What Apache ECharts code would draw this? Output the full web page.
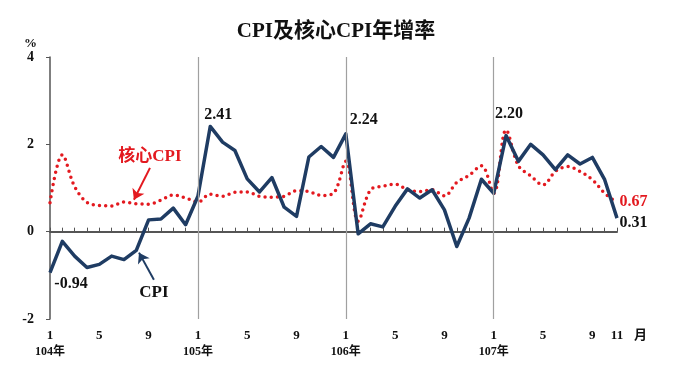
<!DOCTYPE html>
<html>
<head>
<meta charset="utf-8">
<script src="https://cdn.jsdelivr.net/npm/echarts@6/dist/echarts.min.js"></script>
<style>html,body{margin:0;padding:0;background:#fff}#c{width:680px;height:383px}</style>
</head>
<body>
<div id="c"></div>
<script>
// ---- data ----
const years = ['104年', '105年', '106年', '107年'];
const shownMonths = [1, 5, 9];
const lastMonthLabel = '11';
const cpi = [-0.94, -0.22, -0.56, -0.82, -0.75, -0.56, -0.64, -0.43, 0.27, 0.29, 0.54, 0.16,
  0.81, 2.41, 2.05, 1.86, 1.21, 0.91, 1.24, 0.56, 0.35, 1.71, 1.95, 1.70,
  2.24, -0.05, 0.18, 0.11, 0.58, 0.98, 0.77, 0.96, 0.50, -0.34, 0.31, 1.20,
  0.88, 2.20, 1.61, 2.00, 1.76, 1.42, 1.76, 1.55, 1.70, 1.19, 0.31];
const core = [0.66, 1.76, 1.03, 0.67, 0.60, 0.59, 0.68, 0.64, 0.63, 0.72, 0.84, 0.77,
  0.68, 0.86, 0.81, 0.90, 0.91, 0.81, 0.79, 0.81, 0.94, 0.92, 0.83, 0.88,
  1.61, 0.24, 0.96, 1.04, 1.09, 0.96, 0.92, 0.96, 0.82, 1.13, 1.29, 1.51,
  0.88, 2.33, 1.51, 1.28, 1.07, 1.38, 1.49, 1.38, 1.19, 0.88, 0.67];
const yTicks = [-2, 0, 2, 4];
// labelled points (index in series)
const cpiLabelled = [0, 13, 24, 37, 46];
const coreLabelled = [46];

const SERIF = "'Liberation Serif','Noto Sans CJK TC',serif";
const NAVY = '#1f3c63';
const RED = '#e3191f';
const N = cpi.length - 1;

const cpiLabelCfg = {
  0: {position: 'bottom', distance: 3, offset: [21, 0]},
  13: {position: 'top', distance: 3, offset: [8, 0]},
  24: {position: 'top', distance: 5, offset: [18, 0]},
  37: {position: 'top', distance: 13, offset: [3, 0]},
  46: {position: 'right', distance: 2, offset: [0, 5]}
};
const hidden = {color: 'rgba(0,0,0,0)'};
const cpiData = cpi.map((v, i) => {
  const d = {value: [i, v]};
  if (cpiLabelled.includes(i)) {
    d.label = Object.assign({show: true, formatter: v.toFixed(2), color: '#111',
      fontFamily: SERIF, fontWeight: 'bold', fontSize: 16}, cpiLabelCfg[i]);
  }
  return d;
});
const coreData = core.map((v, i) => {
  const d = {value: [i, v]};
  if (coreLabelled.includes(i)) {
    d.label = {show: true, formatter: v.toFixed(2), color: RED, position: 'right',
      distance: 2, offset: [0, -1], fontFamily: SERIF, fontWeight: 'bold', fontSize: 16};
  }
  return d;
});

function monthLabel(val) {
  const i = Math.round(val);
  if (i !== val || i < 0 || i > N) return '';
  const m = i % 12 + 1;
  if (i === N) return '{m|' + lastMonthLabel + '}';
  if (m === 1) return '{m|1}\n{y|' + years[Math.floor(i / 12)] + '}';
  if (shownMonths.includes(m)) return '{m|' + m + '}';
  return '';
}

const chart = echarts.init(document.getElementById('c'), null, {renderer: 'canvas'});
chart.setOption({
  animation: false,
  backgroundColor: '#fff',
  title: {
    text: 'CPI及核心CPI年增率', left: 331, top: 16, textAlign: 'center',
    textStyle: {fontFamily: SERIF, fontWeight: 'bold', fontSize: 21, color: '#111'}
  },
  grid: {left: 50, right: 63, top: 57, bottom: 64, containLabel: false},
  xAxis: [{
    type: 'value', min: 0, max: N, interval: 1,
    axisLine: {show: true, onZero: true, lineStyle: {color: '#555', width: 2}},
    axisTick: {show: true, inside: true, length: 4, lineStyle: {color: '#555', width: 1}},
    axisLabel: {show: false}, splitLine: {show: false}
  }, {
    type: 'value', min: 0, max: N, interval: 1, position: 'bottom',
    axisLine: {show: false, onZero: false}, axisTick: {show: false}, splitLine: {show: false},
    name: '月', nameLocation: 'end', nameGap: 17,
    nameTextStyle: {fontFamily: SERIF, fontWeight: 'bold', fontSize: 13, color: '#111',
      verticalAlign: 'top', padding: [10, 0, 0, 0]},
    axisLabel: {
      show: true, margin: 9, showMinLabel: true, showMaxLabel: true, hideOverlap: false,
      formatter: monthLabel,
      rich: {
        m: {fontFamily: SERIF, fontWeight: 'bold', fontSize: 13, color: '#111', lineHeight: 16},
        y: {fontFamily: SERIF, fontWeight: 'bold', fontSize: 12, color: '#111', lineHeight: 16}
      }
    }
  }],
  yAxis: {
    type: 'value', min: -2, max: 4, interval: 2,
    name: '%', nameLocation: 'end', nameGap: 6,
    nameTextStyle: {fontFamily: SERIF, fontWeight: 'bold', fontSize: 13, color: '#111', align: 'right', padding: [0, 13, 0, 0]},
    axisLine: {show: true, lineStyle: {color: '#555', width: 1.5}},
    axisTick: {show: true, length: 4, lineStyle: {color: '#555'}},
    axisLabel: {margin: 16, fontFamily: SERIF, fontWeight: 'bold', fontSize: 14, color: '#111',
      formatter: v => yTicks.includes(v) ? String(v) : ''},
    splitLine: {show: false}
  },
  series: [{
    type: 'line', data: [], xAxisIndex: 0, silent: true,
    markLine: {
      silent: true, symbol: ['none', 'none'], label: {show: false},
      lineStyle: {color: '#a0a0a0', type: 'solid', width: 1.2},
      data: [{xAxis: 12}, {xAxis: 24}, {xAxis: 36}]
    }
  }, {
    name: '核心CPI', type: 'line', xAxisIndex: 0, data: coreData, smooth: 0.35,
    showSymbol: true, symbol: 'circle', symbolSize: 1, showAllSymbol: true,
    lineStyle: {color: RED, width: 3.5, type: [0, 6.2], cap: 'round'},
    itemStyle: hidden,
    markLine: {
      silent: true, symbol: ['none', 'arrow'], symbolSize: 10, label: {show: false},
      lineStyle: {color: RED, type: 'solid', width: 2},
      itemStyle: {color: RED},
      data: [[{coord: [8.11, 1.46]}, {coord: [6.81, 0.73]}]]
    },
    markPoint: {
      silent: true, symbol: 'rect', symbolSize: 1, itemStyle: hidden,
      label: {show: true, position: 'inside', formatter: '核心CPI', color: RED,
        fontFamily: SERIF, fontWeight: 'bold', fontSize: 17},
      data: [{coord: [8.11, 1.71]}]
    }
  }, {
    name: 'CPI', type: 'line', xAxisIndex: 0, data: cpiData,
    showSymbol: true, symbol: 'circle', symbolSize: 1, showAllSymbol: true,
    lineStyle: {color: NAVY, width: 3.5, join: 'round'},
    itemStyle: hidden,
    markLine: {
      silent: true, symbol: ['none', 'arrow'], symbolSize: 10, label: {show: false},
      lineStyle: {color: NAVY, type: 'solid', width: 2},
      itemStyle: {color: NAVY},
      data: [[{coord: [8.43, -1.10]}, {coord: [7.22, -0.48]}]]
    },
    markPoint: {
      silent: true, symbol: 'rect', symbolSize: 1, itemStyle: hidden,
      label: {show: true, position: 'inside', formatter: 'CPI', color: '#111',
        fontFamily: SERIF, fontWeight: 'bold', fontSize: 17},
      data: [{coord: [8.43, -1.39]}]
    }
  }]
});
</script>
</body>
</html>
